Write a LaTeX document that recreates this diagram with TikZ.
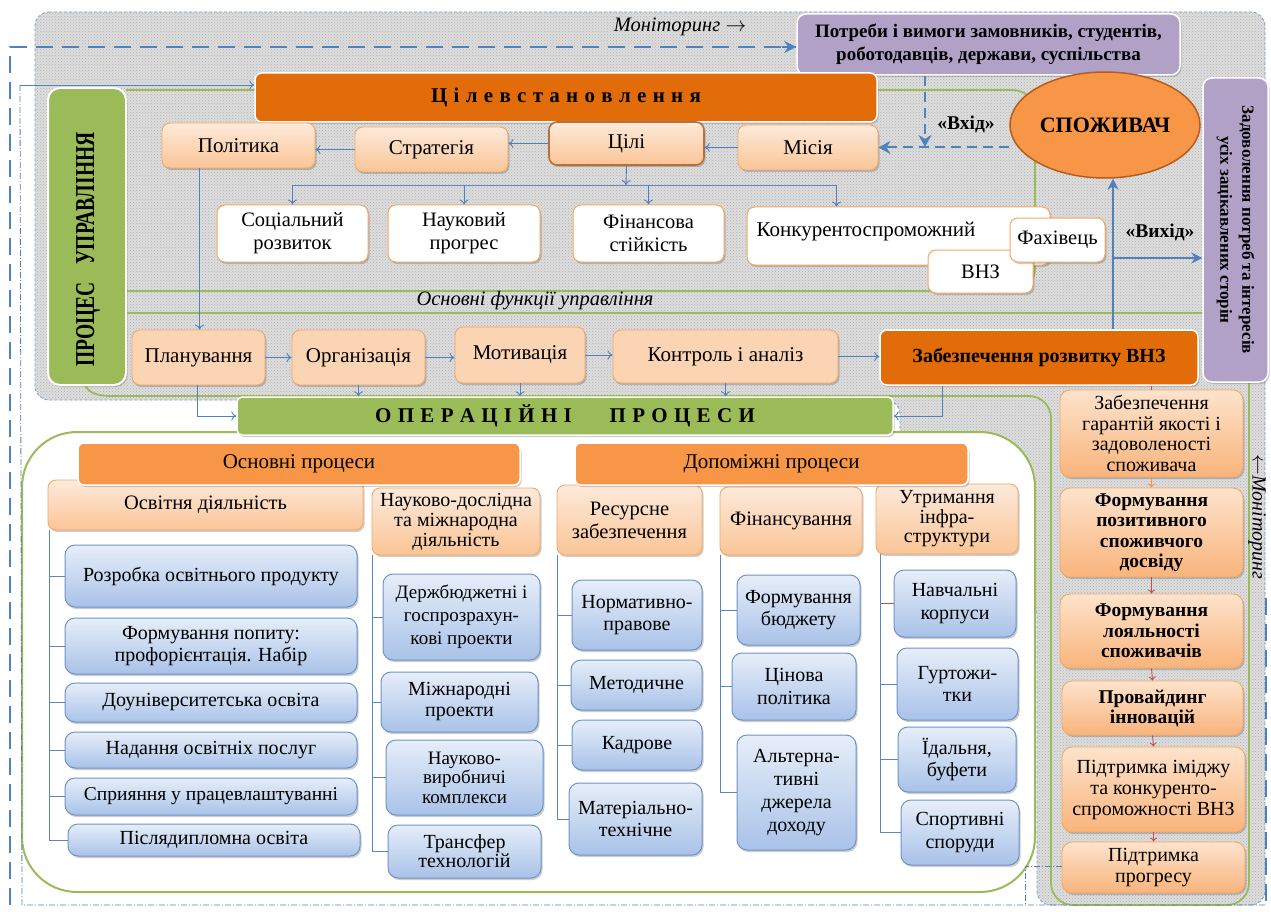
\documentclass[tikz,border=0pt]{standalone}
\usepackage{fontspec}
\setmainfont{Liberation Serif}
\usetikzlibrary{arrows.meta,shadows,patterns,calc,shapes.geometric}

\definecolor{darkO}{HTML}{E36C0A}
\definecolor{medO}{HTML}{F79646}
\definecolor{orB}{HTML}{F5A862}
\definecolor{peachT}{HTML}{FDEADB}
\definecolor{peachB}{HTML}{FBC597}
\definecolor{peachF}{HTML}{FBD4B4}
\definecolor{peachRT}{HTML}{FDE3CC}
\definecolor{peachRB}{HTML}{F9B47C}
\definecolor{blueT}{HTML}{E6EEF9}
\definecolor{blueBot}{HTML}{A9C2E8}
\definecolor{blueB}{HTML}{6F93C8}
\definecolor{grn}{HTML}{9BBB59}
\definecolor{purp}{HTML}{B2A1C7}
\definecolor{arrB}{HTML}{4F81BD}
\definecolor{lnB}{HTML}{5B86C0}
\definecolor{brn}{HTML}{B5703D}
\definecolor{redA}{HTML}{C0504D}
\definecolor{ellB}{HTML}{B85C1B}
\definecolor{gbord}{HTML}{7F9DC8}

\newcommand\fs[2]{\fontsize{#1}{#2}\selectfont}
\newcommand\lgap{\hspace{0.3em}}
% box from corner (#3,#4) to corner (#5,#6)
\newcommand\bx[7]{\node[#2, minimum width={(#5-#3)*1pt}, minimum height={(#6-#4)*1pt}] (#1) at ({(#3+#5)/2},{(#4+#6)/2}) {#7};}

\tikzset{
  shd/.style={drop shadow={shadow xshift=1.5pt, shadow yshift=-2pt, opacity=0.28, fill=black!70}},
  base/.style={align=center, inner sep=1pt, text=black},
  peach/.style={base, shd, rounded corners=8pt, draw=orB, line width=0.9pt, top color=peachT, bottom color=peachB, font=\fs{21}{23}},
  peachflat/.style={base, shd, rounded corners=8pt, draw=orB, line width=0.9pt, fill=peachF, font=\fs{21}{23}},
  peachR/.style={base, shd, rounded corners=10pt, draw=orB, line width=0.9pt, top color=peachRT, bottom color=peachRB, font=\fs{20}{20.5}},
  whitebox/.style={base, shd, rounded corners=8pt, draw=orB, line width=1pt, fill=white, font=\fs{20.5}{23}},
  bluebox/.style={base, shd, rounded corners=10pt, draw=blueB, line width=1pt, top color=blueT, bottom color=blueBot, font=\fs{20}{22.5}},
  darkbox/.style={base, shd, rounded corners=7pt, draw=white, line width=1.5pt, fill=darkO},
  medbox/.style={base, shd, rounded corners=6pt, draw=white, line width=1.5pt, fill=medO, font=\fs{21}{23}},
  greenbox/.style={base, shd, rounded corners=12pt, draw=white, line width=2pt, fill=grn},
  purpbox/.style={base, shd, rounded corners=9pt, draw=white, line width=1.5pt, fill=purp},
  arr/.style={draw=arrB, line width=0.9pt, -{To[length=5pt,width=9pt]}},
  thickarr/.style={draw=arrB, line width=2pt, -{Stealth[length=11pt,width=11pt]}},
  dasharr/.style={draw=arrB, line width=2pt, dash pattern=on 10pt off 6pt, -{Stealth[length=12pt,width=13pt]}},
  bigdash/.style={draw=arrB, line width=2pt, dash pattern=on 17pt off 9pt},
  dashdot/.style={draw=arrB, line width=0.8pt, dash pattern=on 6pt off 2pt on 1pt off 2pt},
  conn/.style={draw=lnB, line width=0.9pt},
  gline/.style={draw=grn, line width=1.8pt},
  smallarr/.style={draw=redA, line width=0.9pt, -{To[length=4pt,width=7pt]}},
  lbl/.style={inner sep=0pt, text=black}
}

\begin{document}
\begin{tikzpicture}[x=1pt,y=-1pt]
\useasboundingbox (0,0) rectangle (1271,912);
\fill[white] (0,0) rectangle (1271,912);

% textured backdrop of the management block and the consumer column
\def\backdrop{(35,12) -- (1265,12) -- (1265,905) -- (1037,905) -- (1037,600) -- (900,600) -- (900,400) -- (35,400) -- cycle}
\fill[gray!27, rounded corners=14pt] \backdrop;
\path[pattern=crosshatch dots, pattern color=gray!60, rounded corners=14pt] \backdrop;
\draw[gbord, line width=0.8pt, dash pattern=on 3pt off 2pt, rounded corners=14pt] \backdrop;

% monitoring frame
\coordinate (tl) at (10,47);
\coordinate (bl) at (10,905);
\coordinate (lin) at (20,85);
\coordinate (lbot) at (22,905);
\coordinate (rbot) at (1266,905);
\coordinate (rtop) at (1266,598);

% green outlines
\draw[gline, rounded corners=22pt] (126,90) -- (1035,90) -- (1035,291) -- (126,291);
\draw[gline, rounded corners=22pt] (126,313) -- (1249,313) -- (1249,905) -- (1051,905) -- (1051,396) -- (112,396);
\draw[gline] (112,396) to[out=180,in=-70] (84,383);

% operational block
\node[draw=grn, line width=2pt, fill=white, rounded corners=55pt, minimum width=1013pt, minimum height=460pt] (opsbox) at (528.5,662) {};

% top row
\node[lbl, font=\itshape\fs{20.5}{22}] (monT) at (680,27) {Моніторинг $\rightarrow$};
\bx{need}{purpbox, font=\bfseries\fs{19}{23}}{797}{14}{1180}{75}{Потреби і вимоги замовників, студентів,\\роботодавців, держави, суспільства}
\draw[bigdash] (bl) -- (tl) -- (tl -| need.west);
\draw[draw=arrB, -{Stealth[length=12pt,width=12pt]}, line width=2pt] ($(tl -| need.west)+(-14,0)$) -- (tl -| need.west);
\draw[dashdot] (lin) -- (lbot) -- (rbot);
\draw[bigdash, line width=1.6pt] (rtop) -- (rbot);

\bx{proc}{greenbox}{48}{88}{126}{385}{}
\node[lbl, rotate=90, font=\bfseries\fs{21}{24}] (procL) at ($(proc.center)+(1,13)$) {\scalebox{0.93}[1.3]{ПРОЦЕС\hspace{0.9em}УПРАВЛІННЯ}};

\bx{goal}{darkbox, font=\bfseries\fs{21}{23}}{255}{73}{877}{122}{Ц\lgap і\lgap л\lgap е\lgap в\lgap с\lgap т\lgap а\lgap н\lgap о\lgap в\lgap л\lgap е\lgap н\lgap н\lgap я}
\draw[arr] (lin) -- (lin -| goal.west);

\bx{pol}{peach}{162}{123}{315}{168}{Політика}
\bx{str}{peach}{355}{127}{508}{172}{Стратегія}
\bx{cil}{peach, draw=brn, line width=1.6pt}{549}{122}{704}{165}{Цілі}
\bx{mis}{peach}{738}{125}{878}{170}{Місія}
\draw[arr] (mis.west) -- (mis.west -| cil.east);
\draw[arr] (cil.west) -- (cil.west -| str.east);
\draw[arr] (str.west) -- (str.west -| pol.east);

\node[ellipse, fill=medO, draw=ellB, line width=1.5pt, minimum width=190pt, minimum height=106pt, inner sep=0pt, font=\bfseries\fs{22}{24}] (cons) at (1105,125) {СПОЖИВАЧ};
\coordinate (vin) at (925,147);
\draw[dasharr] (cons.west |- mis.east) -- (mis.east);
\draw[dasharr] (need.south -| vin) -- (vin);
\node[lbl, font=\bfseries\fs{19.5}{21}] (inL) at (966,124) {«Вхід»};

\bx{sat}{purpbox}{1203}{78}{1268}{382}{}
\node[lbl, rotate=-90, align=center, font=\bfseries\fs{17}{22}] (satL) at (sat.center) {Задоволення потреб та інтересів\\усіх зацікавлених сторін};

% goals
\bx{soc}{whitebox}{217}{205}{368}{262}{Соціальний\\розвиток}
\bx{nauk}{whitebox}{388}{205}{540}{262}{Науковий\\прогрес}
\bx{fin}{whitebox}{573}{205}{724}{262}{Фінансова\\стійкість}
\bx{konk}{whitebox}{747}{207}{1050}{265}{}
\node[lbl, font=\fs{21}{23}] (konkL) at (866,232) {Конкурентоспроможний};
\bx{vnz}{whitebox}{928}{250}{1033}{293}{ВНЗ}
\bx{fah}{whitebox}{1010}{218}{1105}{262}{Фахівець}
\coordinate (gb) at (626,185);
\coordinate (kA) at ($(konk.north west)+(90,0)$);
\draw[arr] (cil.south) -- (gb);
\draw[conn] (gb -| soc.north) -- (gb -| kA);
\draw[arr] (gb -| soc.north) -- (soc.north);
\draw[arr] (gb -| nauk.north) -- (nauk.north);
\draw[arr] (gb -| fin.north) -- (fin.north);
\draw[arr] (gb -| kA) -- (kA);

\node[lbl, font=\itshape\fs{20.5}{22}] (funcL) at (535,301) {Основні функції управління};

% management functions
\bx{plan}{peachflat}{132}{330}{265}{385}{Планування}
\bx{org}{peachflat}{292}{330}{425}{385}{Організація}
\bx{mot}{peachflat}{455}{327}{585}{383}{Мотивація}
\bx{kon}{peachflat}{613}{330}{838}{383}{Контроль і аналіз}
\bx{zr}{darkbox, font=\bfseries\fs{20}{22}}{880}{330}{1198}{385}{Забезпечення розвитку ВНЗ}
\coordinate (pA) at ($(pol.south west)+(38,0)$);
\draw[arr] (pA) -- (pA |- plan.north);
\draw[arr] (plan.east) -- (org.west);
\draw[arr] (org.east) -- (org.east -| mot.west);
\draw[arr] (mot.east) -- (mot.east -| kon.west);
\draw[arr] (kon.east) -- (kon.east -| zr.west);

% output to consumer
\coordinate (vx) at (1113,258);
\draw[thickarr] (zr.north -| vx) -- (vx |- cons.south);
\draw[thickarr] (vx) -- (vx -| sat.west);
\node[lbl, font=\bfseries\fs{19.5}{21}] (outL) at (1160,232) {«Вихід»};

\bx{oper}{greenbox, rounded corners=5pt, line width=1.5pt, font=\bfseries\fs{21}{23}}{237}{397}{893}{435}{О\lgap П\lgap Е\lgap Р\lgap А\lgap Ц\lgap І\lgap Й\lgap Н\lgap І\hspace{1.8em}П\lgap Р\lgap О\lgap Ц\lgap Е\lgap С\lgap И}
\draw[arr] (org.south) -- (org.south |- oper.north);
\draw[arr] (mot.south) -- (mot.south |- oper.north);
\draw[arr] (kon.south) -- (kon.south |- oper.north);
\coordinate (plA) at ($(plan.south west)+(66,0)$);
\draw[arr] (plA) |- (oper.west);
\coordinate (zrA) at ($(zr.south west)+(63,0)$);
\draw[arr] (zrA) |- (oper.east);

% column heads
\bx{osv}{peach, font=\fs{20.5}{23}}{48}{480}{363}{530}{Освітня діяльність}
\bx{nd}{peach, font=\fs{20}{20}}{372}{488}{540}{555}{Науково-дослідна\\та міжнародна\\діяльність}
\bx{res}{peach, font=\fs{20.5}{23}}{557}{485}{702}{555}{Ресурсне\\забезпечення}
\bx{fnc}{peach, font=\fs{20.5}{23}}{720}{487}{862}{555}{Фінансування}
\bx{utr}{peach, font=\fs{20}{19.5}}{876}{484}{1018}{554}{Утримання\\інфра-\\структури}
\bx{osn}{medbox}{78}{443}{520}{485}{Основні процеси}
\bx{dop}{medbox}{575}{443}{968}{485}{Допоміжні процеси}

% educational activity
\bx{a1}{bluebox}{65}{545}{357}{607}{Розробка освітнього продукту}
\bx{a2}{bluebox}{65}{618}{357}{674}{Формування попиту:\\профорієнтація. Набір}
\bx{a3}{bluebox}{65}{683}{357}{722}{Доуніверситетська освіта}
\bx{a4}{bluebox}{65}{732}{357}{768}{Надання освітніх послуг}
\bx{a5}{bluebox, font=\fs{19.5}{22}}{65}{778}{357}{815}{Сприяння у працевлаштуванні}
\bx{a6}{bluebox}{68}{824}{360}{856}{Післядипломна освіта}
\coordinate (sa) at ($(osv.south west)+(2,0)$);
\draw[conn] (sa) |- (a6.west);
\foreach \n in {a1,a2,a3,a4,a5} \draw[conn] (sa |- \n.west) -- (\n.west);

% research activity
\bx{b1}{bluebox, font=\fs{19}{23}}{383}{574}{540}{660}{Держбюджетні і\\госпрозрахун-\\кові проекти}
\bx{b2}{bluebox, font=\fs{20}{21}}{381}{672}{538}{732}{Міжнародні\\проекти}
\bx{b3}{bluebox, font=\fs{19}{19.5}}{386}{740}{543}{815}{Науково-\\виробничі\\комплекси}
\bx{b4}{bluebox, font=\fs{20}{19}}{388}{825}{541}{878}{Трансфер\\технологій}
\coordinate (sb) at ($(nd.south west)+(1,0)$);
\draw[conn] (sb) |- (b4.west);
\foreach \n in {b1,b2,b3} \draw[conn] (sb |- \n.west) -- (\n.west);

% resources
\bx{c1}{bluebox}{572}{580}{702}{650}{Нормативно-\\правове}
\bx{c2}{bluebox}{571}{660}{702}{710}{Методичне}
\bx{c3}{bluebox}{572}{720}{702}{770}{Кадрове}
\bx{c4}{bluebox}{569}{783}{702}{855}{Матеріально-\\технічне}
\coordinate (sc) at ($(res.south west)+(1,0)$);
\draw[conn] (sc) |- (c4.west);
\foreach \n in {c1,c2,c3} \draw[conn] (sc |- \n.west) -- (\n.west);

% financing
\bx{d1}{bluebox}{737}{575}{860}{645}{Формування\\бюджету}
\bx{d2}{bluebox}{732}{653}{856}{720}{Цінова\\політика}
\bx{d3}{bluebox, font=\fs{20}{23.3}}{737}{735}{856}{850}{Альтерна-\\тивні\\джерела\\доходу}
\coordinate (sd) at ($(fnc.south west)+(1,0)$);
\draw[conn] (sd) |- (d3.west);
\foreach \n in {d1,d2} \draw[conn] (sd |- \n.west) -- (\n.west);

% infrastructure
\bx{e1}{bluebox}{894}{570}{1016}{637}{Навчальні\\корпуси}
\bx{e2}{bluebox}{897}{648}{1018}{720}{Гуртожи-\\тки}
\bx{e3}{bluebox}{898}{727}{1016}{792}{Їдальня,\\буфети}
\bx{e4}{bluebox}{901}{800}{1019}{865}{Спортивні\\споруди}
\coordinate (se) at ($(utr.south west)+(5,0)$);
\draw[conn] (se) |- (e4.west);
\foreach \n in {e2,e3} \draw[conn] (se |- \n.west) -- (\n.west);
\draw[draw=redA, line width=0.9pt] (se |- e1.west) -- (e1.west);

% consumer-oriented chain
\bx{r1}{peachR}{1060}{390}{1243}{477}{Забезпечення\\гарантій якості і\\задоволеності\\споживача}
\bx{r2}{peachR, font=\bfseries\fs{19.5}{20.5}}{1060}{488}{1243}{577}{Формування\\позитивного\\споживчого\\досвіду}
\bx{r3}{peachR, font=\bfseries\fs{19.5}{20.5}}{1060}{594}{1243}{668}{Формування\\лояльності\\споживачів}
\bx{r4}{peachR, font=\bfseries\fs{19.5}{20}}{1062}{681}{1243}{735}{Провайдинг\\інновацій}
\bx{r5}{peachR, font=\fs{20}{21}}{1062}{747}{1245}{832}{Підтримка іміджу\\та конкуренто-\\спроможності ВНЗ}
\bx{r6}{peachR}{1062}{842}{1245}{893}{Підтримка\\прогресу}
\draw[draw=redA, line width=0.9pt] (zr.south -| r1.north) -- (r1.north);
\draw[smallarr, draw=medO] (r1.south) -- (r2.north);
\draw[smallarr] (r2.south) -- (r3.north);
\draw[smallarr] (r3.south) -- (r4.north);
\draw[smallarr] (r4.south) -- (r5.north);
\draw[smallarr] (r5.south) -- (r6.north);
\coordinate (dd) at (1025,866);
\draw[dashdot] (r6.west |- dd) -- (dd) -- (dd |- rbot);

\node[lbl, rotate=-90, font=\itshape\fs{20}{22}] (monR) at (1257,517) {$\leftarrow$Моніторинг};
\end{tikzpicture}
\end{document}
